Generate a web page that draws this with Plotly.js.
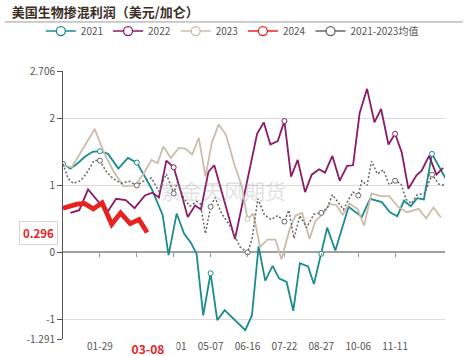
<!DOCTYPE html>
<html><head><meta charset="utf-8">
<script src="https://cdn.plot.ly/plotly-3.0.1.min.js"></script>
<style>html,body{margin:0;padding:0;background:#fff}#chart{width:471px;height:356px}</style>
</head><body><div id="chart"></div>
<script>
// x positions are in "week" units along the seasonal axis
const tickPos = [5, 10, 15, 20, 25, 30, 35, 40, 45];
const tickLabels = ['01-29', '', '04-01', '05-07', '06-16', '07-22', '08-27', '10-06', '11-11'];
const yTickVals = [-1.291, -1, 0, 1, 2, 2.706];
const yTickText = ['-1.291', '-1', '0', '1', '2', '2.706'];
const currentDate = '03-08';

const x2021 = [0,1,2,3,4,5,6.1,7.5,8.8,10,11,12,13.5,14.3,15.4,16.4,17.3,18.1,19,20,20.9,21.9,24.7,25.6,26.5,27.4,28.4,29.3,30.3,31.2,32.1,33.2,34,35,35.8,36.9,38.7,40.5,41.6,43.2,44.3,45.3,46.2,47.1,48,48.9,50,51.8];
const y2021 = [1.32,1.25,1.33,1.43,1.50,1.51,1.47,1.25,1.41,1.34,1.15,0.95,0.56,-0.04,0.58,0.28,0.15,-0.02,-0.94,-0.31,-1.01,-0.86,-1.16,-0.94,0.09,-0.42,-0.20,-0.39,-0.44,-0.87,-0.16,-0.21,-0.47,-0.02,0.37,0.03,0.68,0.53,0.80,0.75,0.60,0.54,0.77,0.69,0.81,0.79,1.47,1.11];

const x2022 = [1,2.2,3.4,6,7.2,8.5,9.7,11.1,12.1,13,14,15,15.9,16.9,17.9,18.7,19.7,20.5,23.3,26.3,27.2,28.1,29.1,30,30.9,31.8,32.8,33.7,34.7,35.5,36.5,37.5,38.5,39.3,40.2,41.2,42.2,43.1,44.1,45,45.9,46.8,47.9,48.6,49.6,50.6,51.5];
const y2022 = [0.59,0.63,0.94,0.60,0.80,0.78,0.66,0.85,0.89,0.82,1.37,1.27,0.93,0.53,0.70,0.64,1.20,1.30,0.20,1.77,1.94,1.61,1.66,1.96,1.13,1.38,0.90,1.16,1.24,1.19,1.44,1.07,1.29,1.30,2.08,2.44,1.94,2.14,1.61,1.77,1.49,0.95,1.15,1.22,1.44,1.16,1.26];

const x2023 = [0,1.2,4.3,5.7,6.9,8.2,9.8,10.9,12,12.8,13.6,14.6,15.7,16.6,17.5,18.4,19.3,20.2,21.1,22.1,23.2,24.2,25,25.8,26.7,27.7,28.8,29.6,30.7,31.5,32.4,33.4,34.2,35.2,36.1,37,37.9,38.8,39.9,40.8,41.8,43,44.2,45.4,46.6,48.2,49.2,50.2,51.2];
const y2023 = [1.30,1.27,1.84,1.45,1.20,0.99,1.00,1.17,1.38,1.33,1.58,1.41,1.56,1.55,1.46,1.71,1.13,1.65,1.91,1.75,1.32,1.00,0.50,0.58,0.08,0.19,0.19,-0.10,0.34,0.55,0.59,0.20,0.47,0.57,0.72,0.71,0.56,0.73,0.65,0.40,0.88,0.84,0.84,0.68,0.60,0.65,0.51,0.67,0.52];

const x2024 = [0,1.9,2.9,4.1,5.3,6.6,7.8,9.1,10.3,11.4];
const y2024 = [0.66,0.72,0.73,0.65,0.74,0.42,0.59,0.43,0.49,0.296];

const xMean = [0,0.7,1.4,2.4,3.3,4.2,5,5.9,6.8,7.9,9,10,11,12,13,14,15,15.5,16.4,17.2,18.1,18.6,19.3,20,20.6,21.5,22.5,23.3,24,25,25.6,26.4,27.3,28.2,29.1,30,30.6,31.3,32.1,33,34,35,35.8,36.5,37.3,38,38.8,39.3,40,40.5,41.2,41.8,42.6,43.4,44.2,45,45.8,46.5,47.2,48,49,50,50.9,51.8];
const yMean = [1.32,1.10,1.03,1.07,1.20,1.37,1.37,1.20,1.10,1.03,1.06,1.00,1.07,1.11,0.91,1.17,0.88,1.05,0.80,0.69,0.76,0.73,0.28,0.68,0.82,0.58,0.42,0.23,0.08,0.00,0.19,0.80,0.56,0.49,0.55,0.46,0.63,0.21,0.55,0.37,0.57,0.59,0.66,0.86,0.74,0.64,0.81,0.90,0.85,1.07,1.00,1.36,1.17,1.23,1.01,1.07,1.02,0.79,0.73,0.86,0.88,1.16,1.02,1.00];

// positions where a series shows its circle symbol
const marks2021 = [0, 5, 10, 20, 35, 50];
const marks2022 = [15, 30, 45];
const marks2023 = [25];
const marks2024 = [];
const marksMean = [5, 10, 15, 20, 25, 30, 35, 40, 45, 50];

const FONT = 'Noto Sans CJK SC, Noto Sans, sans-serif';
const series = [
  {name: '2021', x: x2021, y: y2021, marks: marks2021, color: '#1b8b8f', width: 1.8, dash: 'solid', xa: 'x'},
  {name: '2022', x: x2022, y: y2022, marks: marks2022, color: '#8b1a66', width: 1.8, dash: 'solid', xa: 'x'},
  {name: '2023', x: x2023, y: y2023, marks: marks2023, color: '#cbbdab', width: 1.8, dash: 'solid', xa: 'x'},
  {name: '2024', x: x2024, y: y2024, marks: marks2024, color: '#e8231f', width: 4.8, dash: 'solid', xa: 'x'},
  {name: '2021-2023均值', x: xMean, y: yMean, marks: marksMean, color: '#666666', width: 1.5, dash: '2px,2px', xa: 'x2'}
];

const traces = [];
series.forEach(s => {
  traces.push({type: 'scatter', mode: 'lines', x: s.x, y: s.y, xaxis: s.xa, yaxis: 'y',
    line: {color: s.color, width: s.width, dash: s.dash}, showlegend: false, hoverinfo: 'skip'});
  const mx = [], my = [];
  s.x.forEach((v, i) => { if (s.marks.some(m => Math.abs(m - v) < 0.05)) { mx.push(v); my.push(s.y[i]); } });
  if (mx.length) traces.push({type: 'scatter', mode: 'markers', x: mx, y: my, xaxis: s.xa, yaxis: 'y',
    marker: {symbol: 'circle', size: 5, color: '#ffffff', line: {color: s.color, width: 1}}, showlegend: false, hoverinfo: 'skip'});
});
// legend entries
series.forEach(s => {
  traces.push({type: 'scatter', mode: 'lines+markers', x: [null], y: [null], name: s.name,
    line: {color: s.color, width: 1.5}, marker: {symbol: 'circle', size: 9, color: '#ffffff', line: {color: s.color, width: 1.3}}});
});

const xRange = [0, 51.76];
const yRange = [-1.291, 2.706];
const zeroPos = (0 - yRange[0]) / (yRange[1] - yRange[0]);
const lastVal = y2024[y2024.length - 1];

const layout = {
  width: 471, height: 356,
  margin: {l: 63, r: 26, t: 71, b: 17, pad: 0},
  paper_bgcolor: '#ffffff', plot_bgcolor: '#ffffff',
  font: {family: FONT, size: 10, color: '#555'},
  title: {text: '<b>美国生物掺混利润（美元/加仑）</b>', xref: 'container', x: 0.025, xanchor: 'left',
    yref: 'container', y: 0.966, yanchor: 'middle', font: {family: FONT, size: 13, color: '#3b2e25'}},
  showlegend: true,
  legend: {orientation: 'h', xref: 'paper', x: -0.058, xanchor: 'left',
    yref: 'paper', y: 1.149, yanchor: 'middle',
    font: {family: FONT, size: 10, color: '#555'}, itemwidth: 30, bgcolor: 'rgba(0,0,0,0)'},
  xaxis: {range: xRange, tickmode: 'array', tickvals: tickPos, ticktext: tickLabels, ticks: '',
    showgrid: false, zeroline: false, showline: false, automargin: false,
    tickfont: {family: FONT, size: 10, color: '#555'}},
  xaxis2: {range: xRange, overlaying: 'x', anchor: 'free', position: zeroPos, side: 'bottom',
    tickmode: 'array', tickvals: tickPos, showticklabels: false, ticks: 'outside', ticklen: 4,
    tickcolor: '#999', tickwidth: 1, showgrid: false, zeroline: false, showline: false},
  yaxis: {range: yRange, tickmode: 'array', tickvals: yTickVals, ticktext: yTickText,
    showgrid: true, gridcolor: '#dcdcdc', gridwidth: 1, zeroline: true, zerolinecolor: '#a0a0a0', zerolinewidth: 2,
    showline: true, linecolor: '#555', linewidth: 1, ticks: 'outside', ticklen: 5, tickcolor: '#555',
    automargin: false, tickfont: {family: FONT, size: 10, color: '#555'}},
  shapes: [{type: 'line', xref: 'paper', yref: 'paper', x0: -0.152, x1: 1.047, y0: 1.183, y1: 1.183,
    line: {color: '#9a9a9a', width: 1}}],
  annotations: [
    {xref: 'paper', yref: 'paper', x: 0.419, y: 0.556, text: '紫金天风期货', showarrow: false,
      font: {family: FONT, size: 21, color: 'rgba(160,160,160,0.32)'}},
    {xref: 'x', yref: 'paper', x: x2024[x2024.length - 1], y: 0, yanchor: 'top', yshift: 0, xshift: 0.4,
      width: 56, align: 'center',
      text: '<b>' + currentDate + '</b>', showarrow: false, bgcolor: '#ffffff', borderpad: 0,
      font: {family: FONT, size: 12, color: '#e8231f'}},
    {xref: 'paper', yref: 'y', x: 0, xanchor: 'right', xshift: -5, y: lastVal,
      text: '<b>' + lastVal.toFixed(3) + '</b>', showarrow: false, bgcolor: '#ffffff',
      bordercolor: '#d5d5d5', borderwidth: 1, borderpad: 3,
      font: {family: FONT, size: 11.5, color: '#e8231f'}}
  ]
};

Plotly.newPlot('chart', traces, layout, {displayModeBar: false, staticPlot: true});
</script></body></html>
